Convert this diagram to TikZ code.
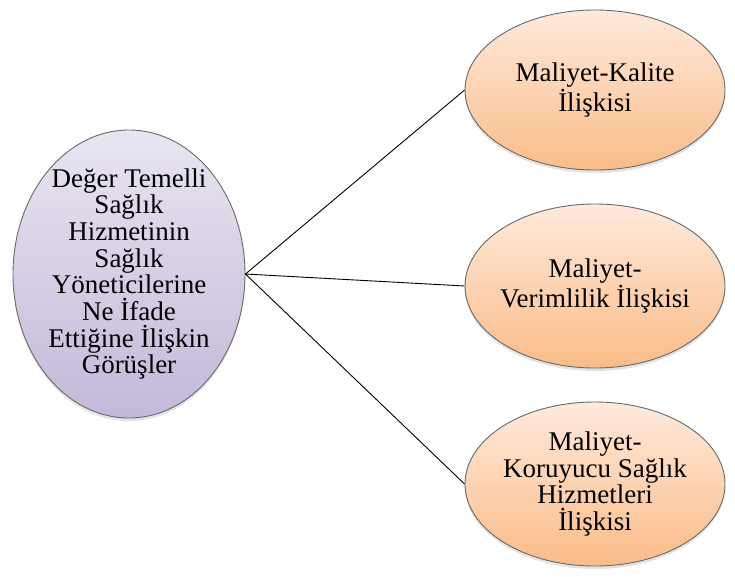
\documentclass[tikz,border=0pt]{standalone}
\usepackage{fontspec}
\setmainfont{Liberation Serif}
\newfontfamily\tnr{Liberation Serif}
\usetikzlibrary{shapes.geometric,shadows}
\definecolor{lavtop}{RGB}{233,229,241}
\definecolor{lavbot}{RGB}{196,184,218}
\definecolor{peachtop}{RGB}{255,234,220}
\definecolor{peachbot}{RGB}{250,188,136}
\definecolor{rimgray}{RGB}{105,105,105}
\begin{document}
\begin{tikzpicture}[x=1pt,y=-1pt,
  bubble/.style={ellipse,draw=rimgray,line width=0.9pt,inner sep=0pt,
    drop shadow={opacity=0.22,shadow xshift=0pt,shadow yshift=-3pt}},
  lavbub/.style={bubble,top color=lavtop,bottom color=lavbot,
    minimum width=232pt,minimum height=288pt},
  peachbub/.style={bubble,top color=peachtop,bottom color=peachbot,
    minimum width=260pt},
  txt/.style={align=center,font=\tnr\fontsize{27}{26.7}\selectfont,inner sep=0pt},
  link/.style={draw=black,line width=0.9pt}]
\useasboundingbox (0,0) rectangle (735,576);
\node[lavbub] (L) at (129,274) {};
\node[peachbub,minimum height=160pt] (A) at (595,90) {};
\node[peachbub,minimum height=164pt] (B) at (595,286) {};
\node[peachbub,minimum height=164pt] (C) at (595,484) {};
\node[txt] (Lt) at (L) {Değer Temelli\\Sağlık\\Hizmetinin\\Sağlık\\Yöneticilerine\\Ne İfade\\Ettiğine İlişkin\\Görüşler};
\node[txt] (At) at (A) {Maliyet-Kalite\\İlişkisi};
\node[txt] (Bt) at (B) {Maliyet-\\Verimlilik İlişkisi};
\node[txt] (Ct) at (C) {Maliyet-\\Koruyucu Sağlık\\Hizmetleri\\İlişkisi};
\draw[link] (L.east) -- (A.west);
\draw[link] (L.east) -- (B.west);
\draw[link] (L.east) -- (C.west);
\end{tikzpicture}
\end{document}
